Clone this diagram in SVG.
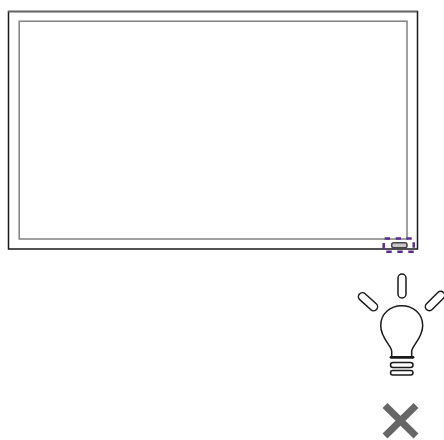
<svg xmlns="http://www.w3.org/2000/svg" width="444" height="440" viewBox="0 0 444 440">
<style>
.o{fill:none;stroke:#1a1a1a;stroke-width:1.500}
.b{fill:none;stroke:#1a1a1a;stroke-width:1.500}
</style>
<rect width="444" height="440" fill="#fff"/>
<g id="monitor">
<path d="M8.500 249V11.500H417.500V249Z" fill="none" stroke="#1a1a1a" stroke-width="1.500"/>
<path d="M8 11.500H417" fill="none" stroke="#666" stroke-width="1.500"/>
<rect x="19.200" y="21.200" width="387.800" height="217.800" fill="none" stroke="#808080" stroke-width="1.500"/>
<rect x="391.700" y="242.700" width="15.300" height="5" rx="2" fill="#c8c8c8" stroke="#444" stroke-width="1.500"/>
</g>
<g id="indicator">
<path d="M384.700 238.500H390M395.700 238.500H401M406.300 238.500H411.700M386.300 251.700H391.700M397.300 251.700H402.700M408.300 251.700H413.700M383.700 243V249M413.700 242.300V247.700" fill="none" stroke="#5b2d91" stroke-width="2.500"/>
</g>
<g id="bulb">
<rect x="398" y="274" width="8" height="24" rx="4" class="b"/>
<rect x="356.500" y="297.700" width="23" height="8" rx="4" class="b" transform="rotate(42 368 301.700)"/>
<rect x="423" y="297" width="24" height="8" rx="4" class="b" transform="rotate(-45 435 301)"/>
<path class="o" d="M391.700 356V351C391 345 380.700 338 380.700 325.500C380.700 314 390 305.700 401.700 305.700C413.500 305.700 422.700 314 422.700 325.500C422.700 338 412.500 345 411.700 351V356"/>
<path d="M391 357.300H413" fill="none" stroke="#1a1a1a" stroke-width="2.800" stroke-linecap="round"/>
<rect x="390.500" y="362.500" width="22.500" height="5" rx="2.500" class="b"/>
<rect x="390.500" y="370.500" width="22.500" height="4.500" rx="2.200" class="b"/>
</g>
<g id="cross">
<path d="M385 405.500L416 436M416 405.500L385 436" fill="none" stroke="#666" stroke-width="7"/>
</g>
<g id="connectors"></g>
</svg>
